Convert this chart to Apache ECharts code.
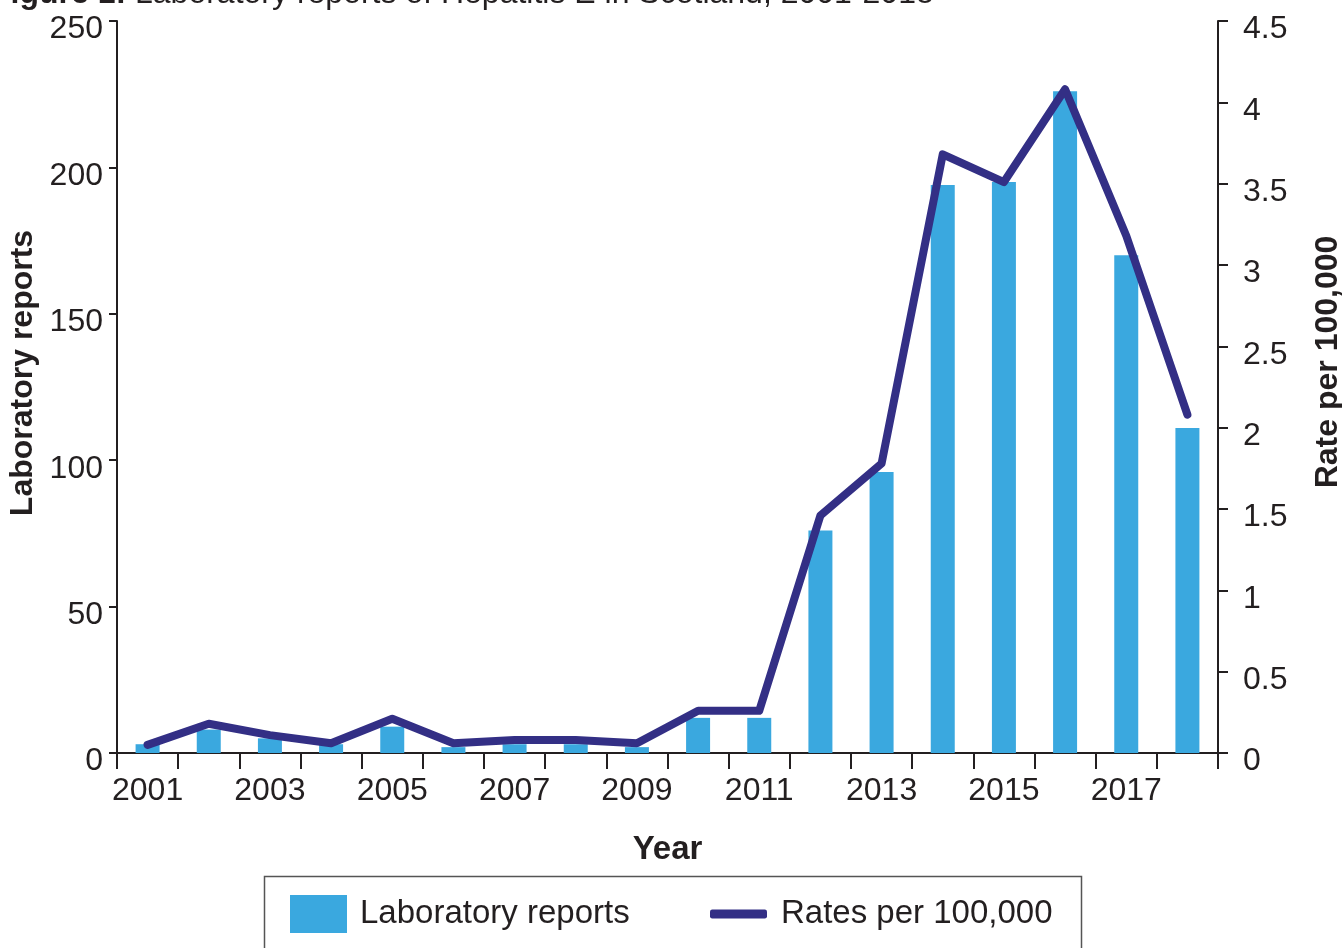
<!DOCTYPE html>
<html>
<head>
<meta charset="utf-8">
<script src="https://cdn.jsdelivr.net/npm/echarts@6/dist/echarts.min.js"></script>
<style>
html,body{margin:0;padding:0;background:#fff;}
#chart{width:1342px;height:948px;}
</style>
</head>
<body>
<div id="chart"></div>
<script>
const years = ['2001','2002','2003','2004','2005','2006','2007','2008','2009','2010','2011','2012','2013','2014','2015','2016','2017','2018'];
const labReports = [3, 8, 5, 3, 9, 2, 3, 3, 2, 12, 12, 76, 96, 194, 195, 226, 170, 111];
const ratesPer100k = [0.05, 0.18, 0.11, 0.06, 0.21, 0.06, 0.08, 0.08, 0.06, 0.26, 0.26, 1.46, 1.78, 3.68, 3.51, 4.08, 3.18, 2.08];
const leftTicks = {min: 0, max: 250, interval: 50};
const rightTicks = {min: 0, max: 4.5, interval: 0.5};

const FONT = '"Liberation Sans", Arial, Helvetica, sans-serif';
const AX = '#231f20';
const TXT = '#231f20';
const chart = echarts.init(document.getElementById('chart'));
chart.setOption({
  animation: false,
  textStyle: {fontFamily: FONT},
  graphic: [{
    type: 'text', left: -9, top: -22,
    style: {
      text: '{b|Figure 1:} Laboratory reports of Hepatitis E in Scotland, 2001-2018',
      font: '32px ' + FONT, fill: TXT,
      rich: {b: {fontWeight: 'bold', fontSize: 32, fontFamily: FONT, fill: TXT}}
    }
  }, {
    type: 'rect', left: 262, top: 874, z: 0,
    shape: {width: 817, height: 110},
    style: {fill: 'none', stroke: '#555', lineWidth: 1.5}
  }],
  grid: {left: 117, right: 124, top: 21, bottom: 195, containLabel: false, outerBoundsMode: 'none'},
  legend: [{
    left: 290, top: 895, padding: 0,
    itemWidth: 57, itemHeight: 38,
    textStyle: {fontSize: 33, color: TXT, fontFamily: FONT, padding: [0,0,0,8]},
    data: [{name: 'Laboratory reports', icon: 'rect'}]
  }, {
    left: 710, top: 895, padding: 0,
    itemWidth: 57, itemHeight: 9,
    textStyle: {fontSize: 33, color: TXT, fontFamily: FONT, padding: [0,0,0,9], lineHeight: 38, height: 38},
    data: [{name: 'Rates per 100,000', icon: 'roundRect'}]
  }],
  xAxis: {
    type: 'category', data: years,
    name: 'Year', nameLocation: 'middle', nameGap: 80,
    nameTextStyle: {fontSize: 33, fontWeight: 'bold', color: TXT},
    axisLine: {lineStyle: {color: AX, width: 2}},
    axisTick: {show: true, interval: 0, length: 16, lineStyle: {color: AX, width: 2}},
    axisLabel: {interval: 1, fontSize: 32, color: TXT, margin: 22}
  },
  yAxis: [{
    type: 'value', min: leftTicks.min, max: leftTicks.max, interval: leftTicks.interval,
    name: 'Laboratory reports', nameLocation: 'middle', nameGap: 76,
    nameTextStyle: {fontSize: 32, fontWeight: 'bold', color: TXT, padding: [0,0,0,28]},
    axisLine: {show: true, lineStyle: {color: AX, width: 2}},
    axisTick: {show: true, length: 8, lineStyle: {color: AX, width: 2}},
    splitLine: {show: false},
    axisLabel: {fontSize: 32, color: TXT, margin: 14,
      formatter: v => '{a|' + v + '}',
      rich: {a: {fontSize: 32, color: TXT, fontFamily: FONT, padding: [17,0,0,0]}}}
  }, {
    type: 'value', min: rightTicks.min, max: rightTicks.max, interval: rightTicks.interval,
    name: 'Rate per 100,000', nameLocation: 'middle', nameGap: 94, nameRotate: 90,
    nameTextStyle: {fontSize: 32, fontWeight: 'bold', color: TXT, padding: [0,0,0,50]},
    axisLine: {show: true, lineStyle: {color: AX, width: 2}},
    axisTick: {show: true, length: 10, lineStyle: {color: AX, width: 2}},
    splitLine: {show: false},
    axisLabel: {fontSize: 32, color: TXT, margin: 25,
      formatter: v => '{a|' + v + '}',
      rich: {a: {fontSize: 32, color: TXT, fontFamily: FONT, padding: [17,0,0,0]}}}
  }],
  series: [{
    name: 'Laboratory reports', type: 'bar', data: labReports, yAxisIndex: 0,
    barWidth: 24, itemStyle: {color: '#3aa8df'}
  }, {
    name: 'Rates per 100,000', type: 'line', data: ratesPer100k, yAxisIndex: 1,
    symbol: 'none', showSymbol: false,
    lineStyle: {color: '#332f85', width: 8, cap: 'round', join: 'round'},
    itemStyle: {color: '#332f85'}
  }]
});
</script>
</body>
</html>
